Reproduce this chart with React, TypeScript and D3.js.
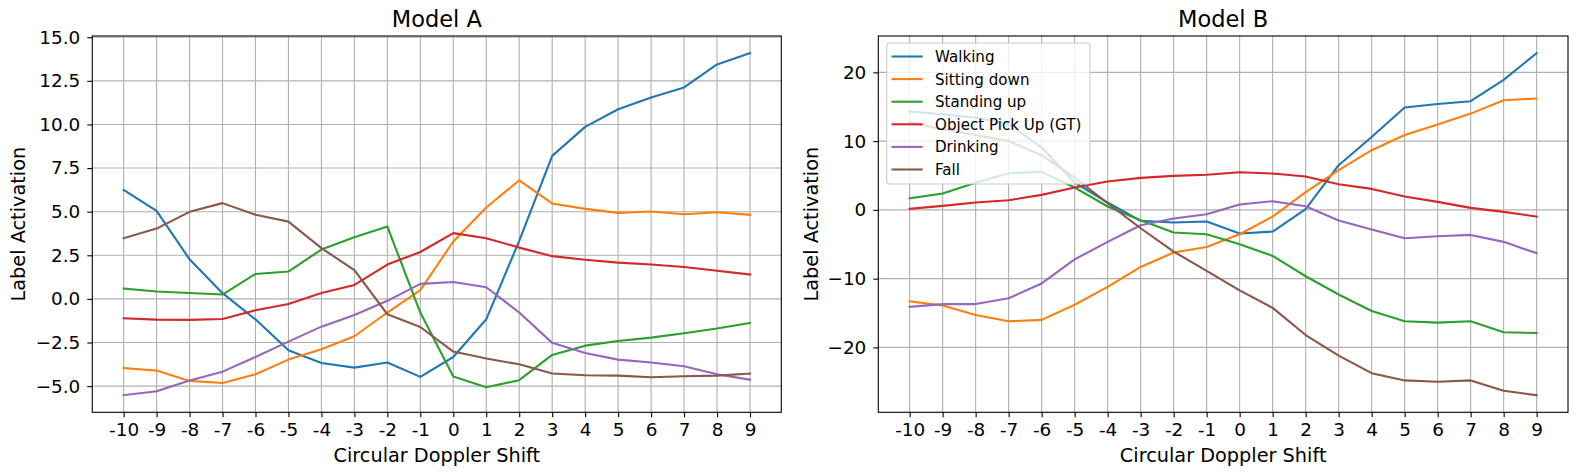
import React, { useEffect, useRef } from "react";
import * as d3 from "d3";

// circular doppler shift steps (x axis)
const shifts = [-10, -9, -8, -7, -6, -5, -4, -3, -2, -1, 0, 1, 2, 3, 4, 5, 6, 7, 8, 9];
const shiftLabels = ["-10", "-9", "-8", "-7", "-6", "-5", "-4", "-3", "-2", "-1", "0", "1", "2", "3", "4", "5", "6", "7", "8", "9"];

const labels = ["Walking", "Sitting down", "Standing up", "Object Pick Up (GT)", "Drinking", "Fall"];
const colors = ["#1f77b4", "#ff7f0e", "#2ca02c", "#d62728", "#9467bd", "#8c564b"];

// Model A
const walkingA = [6.25, 5.05, 2.27, 0.33, -1.17, -2.94, -3.67, -3.94, -3.65, -4.47, -3.33, -1.17, 3.33, 8.2, 9.86, 10.87, 11.55, 12.12, 13.44, 14.09];
const sittingA = [-3.96, -4.11, -4.7, -4.82, -4.32, -3.48, -2.89, -2.14, -0.78, 0.5, 3.29, 5.24, 6.8, 5.47, 5.16, 4.93, 5.01, 4.85, 4.97, 4.82];
const standingA = [0.59, 0.42, 0.34, 0.25, 1.43, 1.57, 2.83, 3.54, 4.15, -0.78, -4.45, -5.07, -4.66, -3.21, -2.68, -2.41, -2.22, -1.97, -1.7, -1.38];
const pickupA = [-1.11, -1.19, -1.2, -1.15, -0.65, -0.29, 0.34, 0.8, 1.97, 2.69, 3.77, 3.48, 2.94, 2.45, 2.24, 2.08, 1.97, 1.83, 1.61, 1.4];
const drinkingA = [-5.52, -5.29, -4.68, -4.17, -3.33, -2.45, -1.59, -0.92, -0.11, 0.86, 0.97, 0.67, -0.78, -2.52, -3.1, -3.48, -3.65, -3.86, -4.32, -4.63];
const fallA = [3.48, 4.03, 4.99, 5.49, 4.82, 4.43, 2.91, 1.65, -0.88, -1.61, -3.02, -3.42, -3.75, -4.28, -4.38, -4.4, -4.49, -4.43, -4.4, -4.28];

// Model B
const walkingB = [14.3, 13.9, 13.4, 12.5, 9.07, 3.98, 1.07, -1.6, -1.84, -1.7, -3.44, -3.15, 0.1, 6.5, 10.6, 14.9, 15.4, 15.8, 18.9, 22.8];
const sittingB = [-13.3, -13.9, -15.3, -16.2, -16.0, -13.8, -11.2, -8.3, -6.2, -5.4, -3.54, -0.97, 2.57, 5.77, 8.68, 10.9, 12.4, 14.0, 15.95, 16.2];
const standingB = [1.7, 2.38, 3.93, 5.33, 5.53, 3.25, 0.49, -1.5, -3.3, -3.54, -5.0, -6.7, -9.65, -12.3, -14.7, -16.2, -16.4, -16.2, -17.8, -17.9];
const pickupB = [0.15, 0.58, 1.07, 1.4, 2.18, 3.25, 4.12, 4.65, 4.95, 5.1, 5.48, 5.28, 4.85, 3.73, 3.05, 1.94, 1.16, 0.29, -0.29, -0.97];
const drinkingB = [-14.1, -13.7, -13.7, -12.85, -10.7, -7.2, -4.65, -2.23, -1.26, -0.63, 0.78, 1.26, 0.53, -1.55, -2.86, -4.12, -3.83, -3.64, -4.65, -6.3];
const fallB = [12.75, 11.7, 10.9, 10.0, 7.95, 4.7, 0.97, -2.67, -6.06, -8.87, -11.7, -14.25, -18.2, -21.2, -23.75, -24.8, -25.0, -24.8, -26.3, -26.95];

const yTicksA = [-5, -2.5, 0, 2.5, 5, 7.5, 10, 12.5, 15];
const yTicksB = [-20, -10, 0, 10, 20];

const FONT = "'DejaVu Sans', sans-serif";

type Panel = {
	title: string;
	series: number[][];
	yTicks: number[];
	yFormat: (v: number) => string;
	left: number;
	right: number;
	ylabelX: number;
	legend: boolean;
};

const App: React.FC = () => {
	const chartRef = useRef<SVGSVGElement | null>(null);

	useEffect(() => {
		if (!chartRef.current) return;
		document.body.style.margin = "0";

		const svg = d3.select(chartRef.current);
		const top = 36;
		const bottom = 412.3;

		const panels: Panel[] = [
			{
				title: "Model A",
				series: [walkingA, sittingA, standingA, pickupA, drinkingA, fallA],
				yTicks: yTicksA,
				yFormat: d3.format(".1f"),
				left: 92.3,
				right: 781.3,
				ylabelX: 24.5,
				legend: false,
			},
			{
				title: "Model B",
				series: [walkingB, sittingB, standingB, pickupB, drinkingB, fallB],
				yTicks: yTicksB,
				yFormat: d3.format("d"),
				left: 878.3,
				right: 1568,
				ylabelX: 818.3,
				legend: true,
			},
		];

		panels.forEach((p) => {
			const g = svg.append("g");

			// matplotlib style 5% margins
			const xMin = d3.min(shifts) as number;
			const xMax = d3.max(shifts) as number;
			const xPad = (xMax - xMin) * 0.05;
			const xScale = d3
				.scaleLinear()
				.domain([xMin - xPad, xMax + xPad])
				.range([p.left, p.right]);

			const all = p.series.flat();
			const yMin = d3.min(all) as number;
			const yMax = d3.max(all) as number;
			const yPad = (yMax - yMin) * 0.05;
			const yScale = d3
				.scaleLinear()
				.domain([yMin - yPad, yMax + yPad])
				.range([bottom, top]);

			// grid
			g.append("g")
				.selectAll("line")
				.data(shifts)
				.enter()
				.append("line")
				.attr("x1", (d) => xScale(d))
				.attr("x2", (d) => xScale(d))
				.attr("y1", top)
				.attr("y2", bottom)
				.attr("stroke", "#b0b0b0")
				.attr("stroke-width", 1.1);
			g.append("g")
				.selectAll("line")
				.data(p.yTicks)
				.enter()
				.append("line")
				.attr("x1", p.left)
				.attr("x2", p.right)
				.attr("y1", (d) => yScale(d))
				.attr("y2", (d) => yScale(d))
				.attr("stroke", "#b0b0b0")
				.attr("stroke-width", 1.1);

			// lines
			const line = d3
				.line<number>()
				.x((_, i) => xScale(shifts[i]))
				.y((d) => yScale(d));
			p.series.forEach((s, i) => {
				g.append("path")
					.datum(s)
					.attr("d", line)
					.attr("fill", "none")
					.attr("stroke", colors[i])
					.attr("stroke-width", 2.1)
					.attr("stroke-linejoin", "round")
					.attr("stroke-linecap", "square");
			});

			// axes
			const xAxis = g
				.append("g")
				.attr("transform", `translate(0,${bottom})`)
				.call(
					d3
						.axisBottom(xScale)
						.tickValues(shifts)
						.tickFormat((d, i) => shiftLabels[i])
						.tickSize(5)
						.tickPadding(6)
				);
			const yAxis = g
				.append("g")
				.attr("transform", `translate(${p.left},0)`)
				.call(
					d3
						.axisLeft(yScale)
						.tickValues(p.yTicks)
						.tickFormat((d) => p.yFormat(d as number))
						.tickSize(5)
						.tickPadding(7)
				);
			[xAxis, yAxis].forEach((a) => {
				a.select(".domain").remove();
				a.selectAll("line").attr("stroke", "#000").attr("stroke-width", 1.1);
				a.selectAll("text")
					.attr("fill", "#000")
					.style("font-family", FONT)
					.style("font-size", "18.4px");
			});

			// spines
			g.append("rect")
				.attr("x", p.left)
				.attr("y", top)
				.attr("width", p.right - p.left)
				.attr("height", bottom - top)
				.attr("fill", "none")
				.attr("stroke", "#000")
				.attr("stroke-width", 1.1);

			// titles
			g.append("text")
				.attr("x", (p.left + p.right) / 2)
				.attr("y", 27.3)
				.attr("text-anchor", "middle")
				.style("font-family", FONT)
				.style("font-size", "22.5px")
				.text(p.title);
			g.append("text")
				.attr("x", (p.left + p.right) / 2)
				.attr("y", 461.5)
				.attr("text-anchor", "middle")
				.style("font-family", FONT)
				.style("font-size", "19.3px")
				.text("Circular Doppler Shift");
			g.append("text")
				.attr("transform", `translate(${p.ylabelX},${(top + bottom) / 2}) rotate(-90)`)
				.attr("text-anchor", "middle")
				.style("font-family", FONT)
				.style("font-size", "19.3px")
				.text("Label Activation");

			if (p.legend) {
				const lg = g.append("g");
				lg.append("rect")
					.attr("x", 886.7)
					.attr("y", 43)
					.attr("width", 203.3)
					.attr("height", 141)
					.attr("rx", 3)
					.attr("fill", "#fff")
					.attr("fill-opacity", 0.8)
					.attr("stroke", "#cccccc")
					.attr("stroke-width", 1.1);
				labels.forEach((lab, i) => {
					const cy = 56.5 + i * 22.6;
					lg.append("line")
						.attr("x1", 891.5)
						.attr("x2", 922.7)
						.attr("y1", cy)
						.attr("y2", cy)
						.attr("stroke", colors[i])
						.attr("stroke-width", 2.1);
					lg.append("text")
						.attr("x", 935)
						.attr("y", cy)
						.attr("dy", "0.36em")
						.style("font-family", FONT)
						.style("font-size", "15.1px")
						.text(lab);
				});
			}
		});

		return () => {
			svg.selectAll("*").remove();
		};
	}, []);

	return <svg ref={chartRef} width={1577} height={475} style={{ display: "block" }} />;
};

export default App;
